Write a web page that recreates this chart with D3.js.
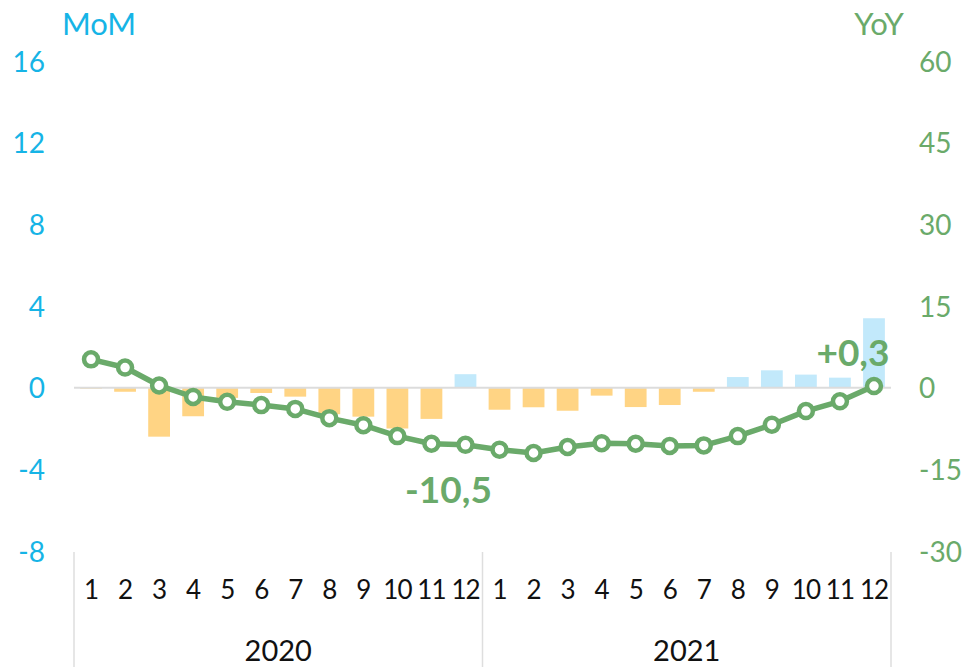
<!DOCTYPE html>
<html><head><meta charset="utf-8">
<script src="https://cdn.jsdelivr.net/npm/d3@7"></script>
<style>
html,body{margin:0;padding:0;background:#fff;}
svg{display:block;font-family:Lato, "Noto Sans", sans-serif;}
</style></head>
<body><svg id="c" width="976" height="667"></svg>
<script>
const years = ["2020", "2021"];
const months = ["1","2","3","4","5","6","7","8","9","10","11","12"];
const momValues = [-0.05, -0.2, -2.4, -1.4, -0.5, -0.26, -0.44, -1.3, -1.42, -2.0, -1.53, 0.66,
                   -1.08, -0.96, -1.13, -0.39, -0.95, -0.85, -0.2, 0.52, 0.85, 0.64, 0.49, 3.4];
const yoyValues = [5.2, 3.7, 0.4, -1.7, -2.6, -3.2, -3.9, -5.6, -6.9, -8.9, -10.3, -10.5,
                   -11.4, -12.0, -10.9, -10.2, -10.3, -10.7, -10.6, -8.9, -6.8, -4.3, -2.5, 0.3];
const leftTicks = [16, 12, 8, 4, 0, -4, -8];
const rightTicks = [60, 45, 30, 15, 0, -15, -30];
const annotations = [{i: 11, text: "-10,5"}, {i: 23, text: "+0,3"}];

const cats = [];
years.forEach(y => months.forEach(m => cats.push(y + "-" + m)));

const svg = d3.select("#c");
const x0 = 74, x1 = 891, yTop = 61, yBot = 551;
const x = d3.scaleBand().domain(cats).range([x0, x1]).paddingInner(0.36).paddingOuter(0.18);
const yL = d3.scaleLinear().domain([-8, 16]).range([yBot, yTop]);
const yR = d3.scaleLinear().domain([-30, 60]).range([yBot, yTop]);

const cBlue = "#16b4e6", cGreen = "#6aaa6a", cOrange = "#ffd484", cLBlue = "#c2e9fb";

// bars
svg.append("g").selectAll("rect").data(momValues).join("rect")
  .attr("x", (d, i) => x(cats[i]))
  .attr("width", x.bandwidth())
  .attr("y", d => d >= 0 ? yL(d) : yL(0))
  .attr("height", d => Math.abs(yL(d) - yL(0)))
  .attr("fill", d => d >= 0 ? cLBlue : cOrange);

// zero line
svg.append("line").attr("x1", x0).attr("x2", x1).attr("y1", yL(0)).attr("y2", yL(0))
  .attr("stroke", "#dcdcdc").attr("stroke-width", 2);

// left axis
const gl = svg.append("g").attr("transform", "translate(45,0)")
  .call(d3.axisLeft(yL).tickValues(leftTicks).tickSize(0).tickPadding(0).tickFormat(d => d));
gl.select(".domain").remove();
gl.selectAll("text").attr("fill", cBlue).style("font-size", "28px").style("font-family", "Lato").attr("dy", "0.36em");

// right axis
const gr = svg.append("g").attr("transform", "translate(919,0)")
  .call(d3.axisRight(yR).tickValues(rightTicks).tickSize(0).tickPadding(0).tickFormat(d => d));
gr.select(".domain").remove();
gr.selectAll("text").attr("fill", cGreen).style("font-size", "28px").style("font-family", "Lato").attr("dy", "0.36em");

// axis titles
svg.append("text").attr("x", 99).attr("y", 24).attr("text-anchor", "middle").attr("dy", "0.36em")
  .attr("fill", cBlue).style("font-size", "31px").text("MoM");
svg.append("text").attr("x", 879).attr("y", 24).attr("text-anchor", "middle").attr("dy", "0.36em")
  .attr("fill", cGreen).style("font-size", "31px").text("YoY");

// x axis (months)
const gx = svg.append("g").attr("transform", "translate(0,590)")
  .call(d3.axisBottom(x).tickSize(0).tickPadding(0).tickFormat(d => d.split("-")[1]));
gx.select(".domain").remove();
gx.selectAll("text").attr("fill", "#111").style("font-size", "26px").style("font-family", "Lato")
  .attr("dy", "0.36em").style("letter-spacing", "-1px");

// year labels & separators
const seps = [x0, (x0 + x1) / 2, x1];
svg.append("g").selectAll("line").data(seps).join("line")
  .attr("x1", d => d).attr("x2", d => d).attr("y1", 552).attr("y2", 667)
  .attr("stroke", "#dedede").attr("stroke-width", 1.5);
svg.append("g").selectAll("text").data(years).join("text")
  .attr("x", (d, k) => (seps[k] + seps[k + 1]) / 2).attr("y", 651).attr("dy", "0.36em")
  .attr("text-anchor", "middle").attr("fill", "#111").style("font-size", "29px").text(d => d);

// line
const cx = (i) => x(cats[i]) + x.bandwidth() / 2;
svg.append("path").datum(yoyValues)
  .attr("d", d3.line().x((d, i) => cx(i)).y(d => yR(d)))
  .attr("fill", "none").attr("stroke", cGreen).attr("stroke-width", 5.5).attr("stroke-linejoin", "round");
svg.append("g").selectAll("circle").data(yoyValues).join("circle")
  .attr("cx", (d, i) => cx(i)).attr("cy", d => yR(d)).attr("r", 7)
  .attr("fill", "#fff").attr("stroke", cGreen).attr("stroke-width", 4.5);

// annotations
svg.append("text").attr("x", cx(annotations[0].i) - 17).attr("y", yR(yoyValues[annotations[0].i]) + 58)
  .attr("text-anchor", "middle").attr("fill", cGreen).style("font-size", "37px").style("font-weight", "700")
  .text(annotations[0].text);
svg.append("text").attr("x", cx(annotations[1].i) - 21).attr("y", yR(yoyValues[annotations[1].i]) - 20)
  .attr("text-anchor", "middle").attr("fill", cGreen).style("font-size", "37px").style("font-weight", "700")
  .text(annotations[1].text);
</script></body></html>
